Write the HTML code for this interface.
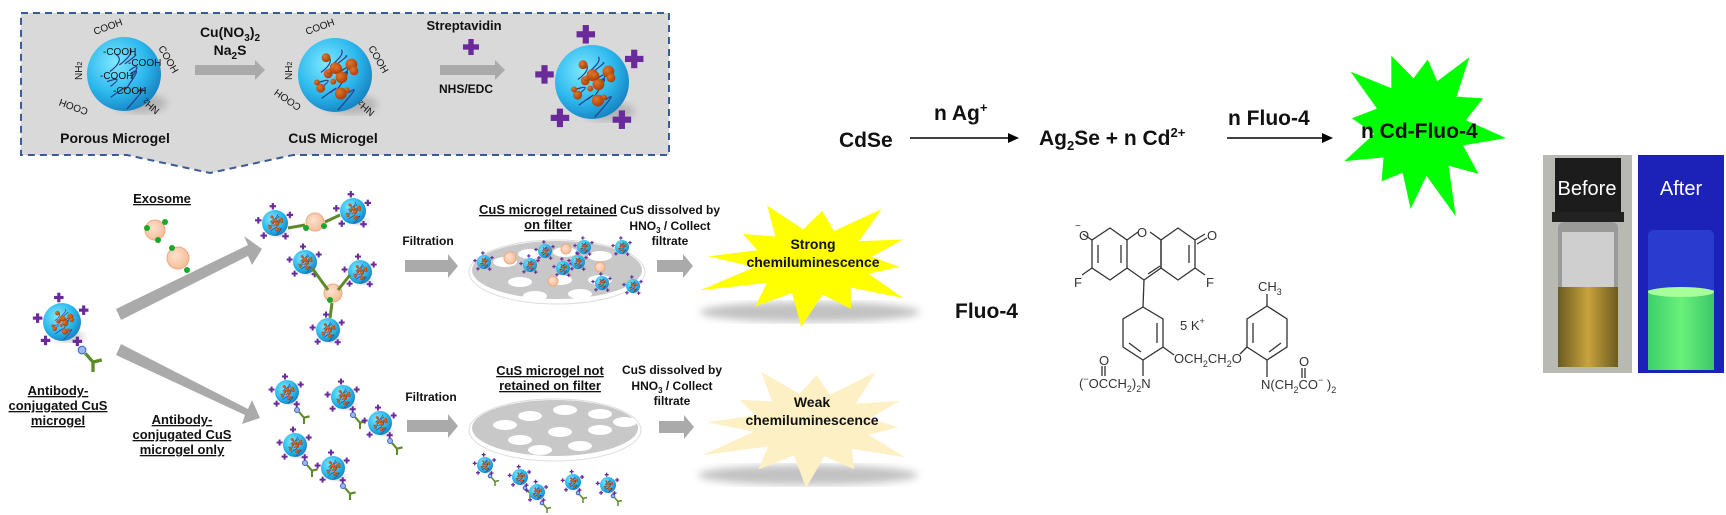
<!DOCTYPE html>
<html><head><meta charset="utf-8"><style>
html,body{margin:0;padding:0;background:#fff;width:1726px;height:515px;overflow:hidden}
svg{display:block}
.b{font-family:"Liberation Sans",sans-serif;font-weight:bold;fill:#111}
.c{font-family:"Liberation Sans",sans-serif;fill:#111}
.s{font-family:"Liberation Sans",sans-serif;fill:#333}
</style></head><body>
<svg id="s" width="1726" height="515" viewBox="0 0 1726 515" xmlns="http://www.w3.org/2000/svg">
<defs>
<radialGradient id="sph" cx="0.38" cy="0.35" r="0.7"><stop offset="0" stop-color="#7fe8ff"/><stop offset="0.6" stop-color="#2cb8ee"/><stop offset="1" stop-color="#1680c0"/></radialGradient>
<radialGradient id="cu" cx="0.35" cy="0.35" r="0.7"><stop offset="0" stop-color="#e2772a"/><stop offset="1" stop-color="#a63e08"/></radialGradient>
<radialGradient id="exo" cx="0.4" cy="0.4" r="0.7"><stop offset="0" stop-color="#fde1cc"/><stop offset="1" stop-color="#f3b993"/></radialGradient>
<filter id="bl"><feGaussianBlur stdDeviation="4"/></filter>
<linearGradient id="vy" x1="0" y1="0" x2="1" y2="0"><stop offset="0" stop-color="#6b5a20"/><stop offset="0.5" stop-color="#c9a43c"/><stop offset="1" stop-color="#6b5a20"/></linearGradient>
<linearGradient id="vg" x1="0" y1="0" x2="1" y2="0"><stop offset="0" stop-color="#3ccf6a"/><stop offset="0.5" stop-color="#6af07a"/><stop offset="1" stop-color="#3cc86a"/></linearGradient>
</defs>

<path d="M21,13 H669 V155 H293 L210,173 L127,155 H21 Z" fill="#d9d9d9" stroke="none"/>
<path d="M21,13 H669 V155 H293 L210,173 L127,155 H21 Z" fill="none" stroke="#3b5a9a" stroke-width="2" stroke-dasharray="7,5"/>
<g id="g"></g>

<text class="b" x="230" y="37" font-size="14" text-anchor="middle">Cu(NO<tspan font-size="10" dy="4">3</tspan><tspan dy="-4">)</tspan><tspan font-size="10" dy="4">2</tspan></text>
<text class="b" x="230" y="55" font-size="14" text-anchor="middle">Na<tspan font-size="10" dy="4">2</tspan><tspan dy="-4">S</tspan></text>
<text class="b" x="464" y="30" font-size="13" text-anchor="middle">Streptavidin</text>
<text class="b" x="466" y="93" font-size="12" text-anchor="middle">NHS/EDC</text>
<text class="b" x="115" y="143" font-size="14" text-anchor="middle">Porous Microgel</text>
<text class="b" x="333" y="143" font-size="14" text-anchor="middle">CuS Microgel</text>
<polygon points="195,65 255,65 255,60 265,70 255,80 255,75 195,75" fill="#aaa"/>
<polygon points="440,65 495,65 495,60 505,70 495,80 495,75 440,75" fill="#aaa"/>
<g font-family="Liberation Sans,sans-serif" font-size="10" fill="#111">
<text x="95" y="35" transform="rotate(-20 95 35)">COOH</text>
<text x="103" y="55">-COOH</text><text x="128" y="66">-COOH</text><text x="100" y="79">-COOH</text><text x="113" y="94">-COOH</text>
<text x="158" y="48" transform="rotate(60 158 48)">COOH</text>
<text x="82" y="80" transform="rotate(-90 82 80)">NH<tspan font-size="7">2</tspan></text>
<text x="112" y="113" transform="rotate(200 100 113)">COOH</text>
<text x="150" y="110" transform="rotate(220 155 108)">NH<tspan font-size="7">2</tspan></text>
<text x="307" y="35" transform="rotate(-20 307 35)">COOH</text>
<text x="368" y="48" transform="rotate(60 368 48)">COOH</text>
<text x="292" y="80" transform="rotate(-90 292 80)">NH<tspan font-size="7">2</tspan></text>
<text x="322" y="118" transform="rotate(215 310 115)">COOH</text>
<text x="365" y="112" transform="rotate(220 370 110)">NH<tspan font-size="7">2</tspan></text>
</g>

<g class="b" font-size="13" text-anchor="middle" text-decoration="underline">
<text x="162" y="203">Exosome</text>
<text x="58" y="395">Antibody-</text><text x="58" y="410">conjugated CuS</text><text x="58" y="425">microgel</text>
<text x="182" y="424">Antibody-</text><text x="182" y="439">conjugated CuS</text><text x="182" y="454">microgel only</text>
<text x="548" y="214">CuS microgel retained</text><text x="548" y="229">on filter</text>
<text x="550" y="375">CuS microgel not</text><text x="550" y="390">retained on filter</text>
</g>
<g class="b" font-size="12" text-anchor="middle">
<text x="428" y="245">Filtration</text><text x="431" y="401">Filtration</text>
<text x="670" y="214">CuS dissolved by</text><text x="670" y="230">HNO<tspan font-size="8" dy="3">3</tspan><tspan dy="-3"> / Collect</tspan></text><text x="670" y="245">filtrate</text>
<text x="672" y="374">CuS dissolved by</text><text x="672" y="390">HNO<tspan font-size="8" dy="3">3</tspan><tspan dy="-3"> / Collect</tspan></text><text x="672" y="405">filtrate</text>
</g>
<polygon points="116,309 248,245 244,236 262,249 252,265 248,256 121,320" fill="#aaa"/>
<polygon points="121,344 248,409 252,400 260,418 242,424 245,415 116,355" fill="#aaa"/>
<polygon points="405,260 448,260 448,254 458,266 448,278 448,272 405,272" fill="#aaa"/>
<polygon points="657,260 683,260 683,254 693,266 683,278 683,272 657,272" fill="#aaa"/>
<polygon points="407,420 448,420 448,414 458,426 448,438 448,432 407,432" fill="#aaa"/>
<polygon points="659,421 684,421 684,415 694,427 684,439 684,433 659,433" fill="#aaa"/>

<text class="c" x="839" y="147" font-size="21" font-weight="bold">CdSe</text>
<line x1="910" y1="138" x2="1010" y2="138" stroke="#000" stroke-width="1.5"/><polygon points="1019,138 1008,133 1008,143"/>
<text class="c" x="934" y="120" font-size="21" font-weight="bold">n Ag<tspan font-size="13" dy="-8">+</tspan></text>
<text class="c" x="1039" y="145" font-size="21" font-weight="bold">Ag<tspan font-size="13" dy="5">2</tspan><tspan dy="-5">Se + n Cd</tspan><tspan font-size="13" dy="-8">2+</tspan></text>
<text class="c" x="1228" y="125" font-size="21" font-weight="bold">n Fluo-4</text>
<line x1="1227" y1="138" x2="1324" y2="138" stroke="#000" stroke-width="1.5"/><polygon points="1333,138 1322,133 1322,143"/>
<g id="gs"></g>
<text class="c" x="1361" y="138" font-size="21" font-weight="bold">n Cd-Fluo-4</text>
<text class="c" x="955" y="318" font-size="21" font-weight="bold">Fluo-4</text>

<g stroke="#333" stroke-width="1.3" fill="none">
<polygon points="1110,228 1127,240 1127,268 1110,280 1092,268 1092,240"/>
<polyline points="1127,240 1138,232"/><polyline points="1150,232 1161,240 1161,268 1144,280 1127,268"/>
<polygon points="1178,228 1195,240 1195,268 1178,280 1161,268 1161,240"/>
<line x1="1098" y1="245" x2="1098" y2="263"/><line x1="1121" y1="245" x2="1121" y2="263"/><line x1="1189" y1="245" x2="1189" y2="263"/><line x1="1148" y1="274" x2="1160" y2="266"/>
<line x1="1092" y1="240" x2="1083" y2="234"/><line x1="1195" y1="240" x2="1205" y2="234"/><line x1="1197" y1="244" x2="1207" y2="238"/>
<line x1="1092" y1="268" x2="1082" y2="275"/><line x1="1195" y1="268" x2="1205" y2="275"/>
<line x1="1144" y1="280" x2="1143" y2="307"/>
<polygon points="1143,307 1163,319 1163,347 1143,360 1123,347 1123,319"/>
<line x1="1157" y1="323" x2="1157" y2="343"/><line x1="1129" y1="343" x2="1141" y2="352"/>
<line x1="1163" y1="347" x2="1174" y2="355"/><line x1="1143" y1="360" x2="1143" y2="376"/>
<polygon points="1267,306 1287,319 1287,347 1267,360 1247,347 1247,319"/>
<line x1="1253" y1="323" x2="1253" y2="343"/><line x1="1281" y1="343" x2="1269" y2="352"/>
<line x1="1267" y1="306" x2="1267" y2="294"/><line x1="1247" y1="347" x2="1240" y2="354"/><line x1="1267" y1="360" x2="1267" y2="377"/>
<line x1="1102" y1="366" x2="1102" y2="376"/><line x1="1105" y1="366" x2="1105" y2="376"/>
<line x1="1302" y1="368" x2="1302" y2="378"/><line x1="1305" y1="368" x2="1305" y2="378"/>
</g>
<g class="s" font-size="13">
<text x="1079" y="240">O</text><text x="1075" y="229" font-size="10">−</text>
<text x="1207" y="240">O</text><text x="1137" y="237">O</text>
<text x="1074" y="287">F</text><text x="1206" y="287">F</text>
<text x="1180" y="330">5 K<tspan font-size="9" dy="-6">+</tspan></text>
<text x="1258" y="291">CH<tspan font-size="9" dy="4">3</tspan></text>
<text x="1174" y="363">OCH<tspan font-size="9" dy="4">2</tspan><tspan dy="-4">CH</tspan><tspan font-size="9" dy="4">2</tspan><tspan dy="-4">O</tspan></text>
<text x="1099" y="365">O</text><text x="1299" y="366">O</text>
<text x="1079" y="388">(<tspan font-size="9" dy="-6">−</tspan><tspan dy="6">OCCH</tspan><tspan font-size="9" dy="4">2</tspan><tspan dy="-4">)</tspan><tspan font-size="9" dy="4">2</tspan><tspan dy="-4">N</tspan></text>
<text x="1261" y="389">N(CH<tspan font-size="9" dy="4">2</tspan><tspan dy="-4">CO</tspan><tspan font-size="9" dy="-6">−</tspan><tspan dy="6"> )</tspan><tspan font-size="9" dy="4">2</tspan></text>
</g>

<rect x="1543" y="155" width="89" height="218" fill="#b9b9b4"/>
<rect x="1555" y="158" width="66" height="60" fill="#1c1c1c"/>
<rect x="1552" y="212" width="72" height="10" fill="#222"/>
<rect x="1558" y="222" width="60" height="140" rx="6" fill="#9a9a98"/>
<rect x="1562" y="232" width="52" height="55" fill="#cfcfcf"/>
<rect x="1558" y="287" width="60" height="80" fill="url(#vy)"/>
<text x="1587" y="195" font-family="Liberation Sans,sans-serif" font-size="20" fill="#fff" text-anchor="middle">Before</text>
<rect x="1638" y="155" width="86" height="218" fill="#1c21b8"/>
<rect x="1648" y="230" width="66" height="140" rx="5" fill="#2a3bd0"/>
<rect x="1648" y="290" width="66" height="80" fill="url(#vg)"/>
<ellipse cx="1681" cy="292" rx="33" ry="5" fill="#a8ff9a"/>
<text x="1681" y="195" font-family="Liberation Sans,sans-serif" font-size="20" fill="#fff" text-anchor="middle">After</text>
<g class="b" font-size="14" text-anchor="middle">
<text x="813" y="249">Strong</text><text x="813" y="267">chemiluminescence</text>
<text x="812" y="407">Weak</text><text x="812" y="425">chemiluminescence</text>
</g>
</svg>
<script>
var NS="http://www.w3.org/2000/svg",G=document.getElementById('g');
function el(t,a,p){var e=document.createElementNS(NS,t);for(var k in a)e.setAttribute(k,a[k]);(p||G).appendChild(e);return e;}
function star(cx,cy,rx,ry,n,inner,fill,par,rot){var p=[];for(var i=0;i<2*n;i++){var a=(rot||0)+Math.PI*i/n;var r=i%2?inner:1;var j=(i%2?1:(0.8+0.4*((i*37)%7)/7));p.push((cx+Math.cos(a)*rx*r*j).toFixed(1)+','+(cy+Math.sin(a)*ry*r*j).toFixed(1));}el('polygon',{points:p.join(' '),fill:fill},par);}
function plus(x,y,s,par){el('rect',{x:x-s,y:y-s/3,width:2*s,height:2*s/3,fill:'#6a2a9a'},par);el('rect',{x:x-s/3,y:y-s,width:2*s/3,height:2*s,fill:'#6a2a9a'},par);}
function sphere(x,y,r,cu,pl){el('ellipse',{cx:x+r*0.45,cy:y+r*0.8,rx:r*0.7,ry:r*0.25,fill:'#999',opacity:0.6,filter:'url(#bl)'});
 el('circle',{cx:x,cy:y,r:r,fill:'url(#sph)'});
 for(var i=0;i<8;i++){var a=i*2.4,d=r*0.55*((i*13%5)/5+0.3);el('path',{d:'M'+(x+Math.cos(a)*d)+','+(y+Math.sin(a)*d)+' q'+(r*0.4)+','+(-r*0.3)+' '+(r*0.3*Math.cos(a+2))+','+(r*0.5*Math.sin(a+1)),fill:'none',stroke:'#2a3f8a','stroke-width':Math.max(0.6,r/30)});}
 if(cu){for(var i=0;i<14;i++){var a=i*2.4,d=r*0.72*Math.sqrt(((i*7)%14+1)/15);el('circle',{cx:x+Math.cos(a)*d,cy:y+Math.sin(a)*d,r:r*(0.08+0.04*(i%3)),fill:'url(#cu)'});}}
 if(pl){var an=[-1.7,-0.5,0.9,2.3,3.3];for(var i=0;i<an.length;i++){plus(x+Math.cos(an[i])*r*1.3,y+Math.sin(an[i])*r*1.3,r*0.25);}}}
function ab(x,y,s){var g='#5e8a2a';el('circle',{cx:x,cy:y,r:s*0.35,fill:'#9db8ee',stroke:'#3a62c8','stroke-width':1});
 el('line',{x1:x+s*0.3,y1:y+s*0.3,x2:x+s,y2:y+s*1.1,stroke:g,'stroke-width':s*0.3});el('line',{x1:x+s,y1:y+s*1.1,x2:x+s*1.8,y2:y+s*0.9,stroke:g,'stroke-width':s*0.3});el('line',{x1:x+s,y1:y+s*1.1,x2:x+s,y2:y+s*2,stroke:g,'stroke-width':s*0.3});}
function exo(x,y,r){el('circle',{cx:x,cy:y,r:r,fill:'url(#exo)',stroke:'#f0a880','stroke-width':1});}
function dot(x,y){el('circle',{cx:x,cy:y,r:3,fill:'#1aa82a'});}
// filters (in G so particles can sit on top)
el('ellipse',{cx:557,cy:272,rx:88,ry:32,fill:'#fff',stroke:'#ddd'});
el('ellipse',{cx:557,cy:270,rx:85,ry:29,fill:'#c8c8c8'});
el('ellipse',{cx:555,cy:430,rx:86,ry:31,fill:'#fff',stroke:'#ddd'});
el('ellipse',{cx:555,cy:428,rx:83,ry:28,fill:'#c8c8c8'});
[[505,262],[530,254],[565,252],[600,256],[520,282],[560,280],[600,280],[535,296],[580,294]].forEach(function(h){el('ellipse',{cx:h[0],cy:h[1],rx:12,ry:5,fill:'#fff'});});
[[505,425],[530,416],[565,410],[600,414],[520,440],[560,432],[600,430],[540,450],[580,446],[625,422]].forEach(function(h){el('ellipse',{cx:h[0],cy:h[1],rx:12,ry:5,fill:'#fff'});});
sphere(124,74,37,false,false);sphere(335,75,37,true,false);sphere(592,82,37,true,true);
plus(471,47,8);
exo(155,230,10);dot(147,228);dot(165,222);dot(158,240);exo(178,258,11);dot(172,248);dot(187,270);
sphere(62,322,19,true,true);ab(82,350,11);
sphere(275,223,13,true,true);sphere(353,211,13,true,true);sphere(305,262,12,true,true);sphere(360,272,12,true,true);sphere(328,330,12,true,true);
exo(315,222,9);exo(333,293,9);dot(306,228);dot(324,226);dot(330,300);
el('path',{d:'M288,228 L305,225 M325,222 L340,215 M312,268 L328,290 M350,275 L338,290 M332,303 L330,318',stroke:'#5e8a2a','stroke-width':3,fill:'none'});
exo(510,258,6);exo(566,249,5);exo(600,267,5);exo(553,281,5);
[[484,262],[530,265],[545,251],[563,268],[602,283],[622,247],[633,286],[584,247],[578,262]].forEach(function(p){sphere(p[0],p[1],7,true,true);});
[[287,392],[343,397],[380,423],[295,445],[333,468]].forEach(function(p){sphere(p[0],p[1],12,true,true);ab(p[0]+10,p[1]+18,7);});
[[485,465],[520,477],[537,492],[573,482],[608,485]].forEach(function(p){sphere(p[0],p[1],8,true,true);ab(p[0]+5,p[1]+11,5);});
var GS=document.getElementById('gs');
el('ellipse',{cx:810,cy:312,rx:110,ry:10,fill:'#999',opacity:0.6,filter:'url(#bl)'});
el('ellipse',{cx:808,cy:475,rx:110,ry:10,fill:'#999',opacity:0.6,filter:'url(#bl)'});
star(813,262,108,60,12,0.55,'#ffff00',G,0.1);
star(812,425,108,58,12,0.55,'#fdf0c4',G,0.05);
star(1420,127,80,85,12,0.58,'#00ff00',GS,-1.45);
</script>
</body></html>
